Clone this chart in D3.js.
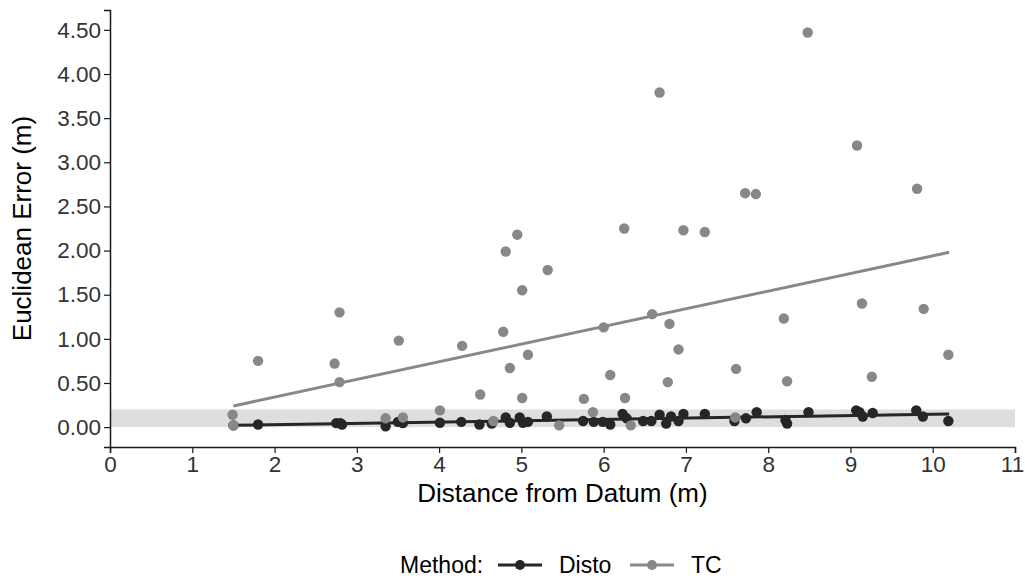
<!DOCTYPE html>
<html lang="en">
<head>
<meta charset="UTF-8">
<title>Euclidean Error vs Distance from Datum</title>
<script src="https://d3js.org/d3.v7.min.js"></script>
<style>
    body { margin: 0; background: #fff; }
    svg { font-family: "Liberation Sans", Arial, sans-serif; }
    .tick text { font-size: 22.5px; fill: #333; }
    .tick line, .domain { stroke: #1a1a1a; }
    .title { font-size: 26px; fill: #000; }
    .legend { font-size: 23px; fill: #000; }
</style>
</head>
<body>
<svg></svg>
<script>
// Data
var methods = ["Disto", "TC"];
var methodColors = ["#262626", "#888888"];

var tcX = [1.49, 1.50, 1.80, 2.73, 2.79, 2.79, 3.35, 3.51, 3.56, 4.01, 4.28, 4.50, 4.66, 4.78, 4.81, 4.86, 4.95,
           5.01, 5.01, 5.08, 5.32, 5.46, 5.76, 5.87, 6.00, 6.08, 6.25, 6.26, 6.33, 6.59, 6.68, 6.78, 6.80, 6.91,
           6.97, 7.23, 7.61, 7.60, 7.72, 7.85, 8.19, 8.23, 8.48, 9.08, 9.14, 9.26, 9.81, 9.89, 10.19];
var tcY = [0.14, 0.02, 0.75, 0.72, 1.30, 0.51, 0.10, 0.98, 0.11, 0.19, 0.92, 0.37, 0.07, 1.08, 1.99, 0.67, 2.18,
           1.55, 0.33, 0.82, 1.78, 0.02, 0.32, 0.17, 1.13, 0.59, 2.25, 0.33, 0.02, 1.28, 3.79, 0.51, 1.17, 0.88,
           2.23, 2.21, 0.66, 0.11, 2.65, 2.64, 1.23, 0.52, 4.47, 3.19, 1.40, 0.57, 2.70, 1.34, 0.82];

var distoX = [1.50, 1.80, 2.75, 2.80, 2.82, 3.35, 3.50, 3.56, 4.01, 4.27, 4.49, 4.64, 4.81, 4.86, 4.98, 5.02, 5.08,
              5.31, 5.75, 5.88, 5.99, 6.08, 6.23, 6.28, 6.48, 6.58, 6.68, 6.76, 6.82, 6.91, 6.97, 7.23, 7.59,
              7.73, 7.86, 8.21, 8.23, 8.49, 9.07, 9.11, 9.15, 9.27, 9.80, 9.88, 10.19];
var distoY = [0.02, 0.03, 0.045, 0.045, 0.03, 0.01, 0.06, 0.045, 0.05, 0.06, 0.03, 0.04, 0.11, 0.05, 0.11, 0.05, 0.06,
              0.12, 0.07, 0.06, 0.06, 0.03, 0.15, 0.10, 0.07, 0.07, 0.14, 0.04, 0.12, 0.07, 0.15, 0.15, 0.07,
              0.10, 0.17, 0.08, 0.04, 0.17, 0.19, 0.17, 0.12, 0.16, 0.19, 0.12, 0.07];

// linear fit ends (x, y) for each method
var distoFit = [[1.5, 0.02], [10.2, 0.15]];
var tcFit = [[1.5, 0.24], [10.2, 1.98]];

// shaded tolerance band
var band = [0, 0.2];

var xTicks = d3.range(0, 12);
var yTicks = [0, 0.5, 1, 1.5, 2, 2.5, 3, 3.5, 4, 4.5];

var svgWidth = 1025;
var svgHeight = 579;

var svg = d3.select("svg")
    .attr("width", svgWidth)
    .attr("height", svgHeight);

var xs = d3.scaleLinear().domain([0, 11]).range([110, 1015]);
var ys = d3.scaleLinear().domain([-0.225, 4.725]).range([447, 10]);

// band
svg.append("rect")
    .attr("x", xs(0))
    .attr("width", xs(11) - xs(0))
    .attr("y", ys(band[1]))
    .attr("height", ys(band[0]) - ys(band[1]))
    .attr("fill", "#dedede");

// axes
var xAxisG = svg.append("g")
    .attr("transform", "translate(0," + ys(-0.225) + ")")
    .call(d3.axisBottom(xs).tickValues(xTicks).tickSize(6).tickPadding(3).tickFormat(d3.format("d")))
    .call(function(g) { g.select(".domain").attr("stroke-width", 1.5); g.selectAll(".tick line").attr("stroke-width", 1.2); });

// keep the last label inside the window
xAxisG.selectAll(".tick text").filter(function(d) { return d === 11; }).attr("dx", -3);

svg.append("g")
    .attr("transform", "translate(" + xs(0) + ",0)")
    .call(d3.axisLeft(ys).tickValues(yTicks).tickSize(6).tickPadding(3).tickFormat(d3.format(".2f")))
    .call(function(g) { g.select(".domain").attr("stroke-width", 1.5); g.selectAll(".tick line").attr("stroke-width", 1.2); });

svg.selectAll(".tick text").attr("font-family", null).attr("font-size", null);

// axis titles
svg.append("text")
    .attr("class", "title")
    .attr("x", (xs(0) + xs(11)) / 2)
    .attr("y", 502)
    .attr("text-anchor", "middle")
    .text("Distance from Datum (m)");

svg.append("text")
    .attr("class", "title")
    .attr("transform", "translate(31," + ys(2.25) + ") rotate(-90)")
    .attr("text-anchor", "middle")
    .text("Euclidean Error (m)");

// fit lines
var line = d3.line().x(function(d) { return xs(d[0]); }).y(function(d) { return ys(d[1]); });
[distoFit, tcFit].forEach(function(fit, i) {
    svg.append("path")
        .attr("d", line(fit))
        .attr("fill", "none")
        .attr("stroke", methodColors[i])
        .attr("stroke-width", 3);
});

// points
var series = [
    { xv: distoX, yv: distoY },
    { xv: tcX, yv: tcY }
];
series.forEach(function(s, i) {
    svg.append("g")
        .selectAll("circle")
        .data(s.xv.map(function(x, j) { return [x, s.yv[j]]; }))
        .enter()
        .append("circle")
            .attr("cx", function(d) { return xs(d[0]); })
            .attr("cy", function(d) { return ys(d[1]); })
            .attr("r", 5.2)
            .attr("fill", methodColors[i]);
});

// legend
var lg = svg.append("g").attr("transform", "translate(0,565)");
lg.append("text")
    .attr("class", "legend")
    .attr("x", 400)
    .attr("y", 8)
    .text("Method:");

var keyX = [498, 630];
methods.forEach(function(m, i) {
    lg.append("line")
        .attr("x1", keyX[i]).attr("x2", keyX[i] + 44)
        .attr("y1", 0).attr("y2", 0)
        .attr("stroke", methodColors[i])
        .attr("stroke-width", 3);
    lg.append("circle")
        .attr("cx", keyX[i] + 22).attr("cy", 0)
        .attr("r", 5)
        .attr("fill", methodColors[i]);
    lg.append("text")
        .attr("class", "legend")
        .attr("x", keyX[i] + 61)
        .attr("y", 8)
        .text(m);
});
</script>
</body>
</html>
